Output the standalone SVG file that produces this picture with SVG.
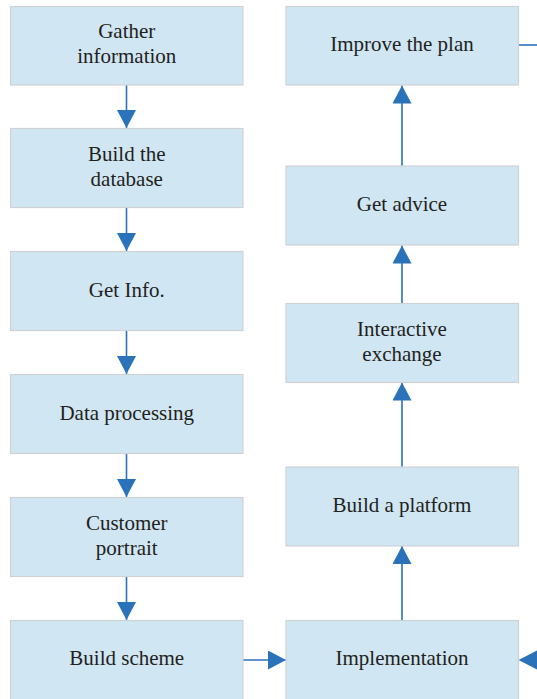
<svg xmlns="http://www.w3.org/2000/svg" width="537" height="699" viewBox="0 0 537 699">
<defs>
<marker id="ah" markerUnits="userSpaceOnUse" markerWidth="19" markerHeight="19" viewBox="0 0 18 19" refX="18" refY="9.5" orient="auto">
<path d="M0,0 L18,9.5 L0,19 Z" fill="#2a72b9"/>
</marker>
<style>
.box{fill:#d0e6f3;stroke:#cfd2d4;stroke-width:1.2}
.t{font-family:"Liberation Serif","Times New Roman",serif;font-size:21px;fill:#231f20;text-anchor:middle}
.c{stroke:#2a72b9;stroke-width:1.6;fill:none}
</style>
</defs>
<rect width="537" height="699" fill="#ffffff"/>
<g id="connectors">
<path class="c" d="M126.5,85 V128" marker-end="url(#ah)"/>
<path class="c" d="M126.5,208 V251" marker-end="url(#ah)"/>
<path class="c" d="M126.5,331 V374" marker-end="url(#ah)"/>
<path class="c" d="M126.5,454 V497" marker-end="url(#ah)"/>
<path class="c" d="M126.5,577 V620" marker-end="url(#ah)"/>
<path class="c" d="M243,660 H286" marker-end="url(#ah)"/>
<path class="c" d="M402,620 V546" marker-end="url(#ah)"/>
<path class="c" d="M402,467 V382.5" marker-end="url(#ah)"/>
<path class="c" d="M402,303 V245.5" marker-end="url(#ah)"/>
<path class="c" d="M402,166 V85.5" marker-end="url(#ah)"/>
<path class="c" d="M518.5,45 H537"/>
<path d="M537,650.5 L518.5,660 L537,669.5 Z" fill="#2a72b9"/>
</g>
<g id="n1"><rect class="box" x="10.5" y="6.5" width="232.5" height="78.5"/><text class="t" x="126.75" y="38">Gather</text><text class="t" x="126.75" y="63">information</text></g>
<g id="n2"><rect class="box" x="10.5" y="128.5" width="232.5" height="79"/><text class="t" x="126.75" y="161">Build the</text><text class="t" x="126.75" y="186">database</text></g>
<g id="n3"><rect class="box" x="10.5" y="251.5" width="232.5" height="79"/><text class="t" x="126.75" y="297">Get Info.</text></g>
<g id="n4"><rect class="box" x="10.5" y="374.5" width="232.5" height="79"/><text class="t" x="126.75" y="420">Data processing</text></g>
<g id="n5"><rect class="box" x="10.5" y="497.5" width="232.5" height="79"/><text class="t" x="126.75" y="529.5">Customer</text><text class="t" x="126.75" y="554.5">portrait</text></g>
<g id="n6"><rect class="box" x="10.5" y="620.5" width="232.5" height="80"/><text class="t" x="126.75" y="665">Build scheme</text></g>
<g id="n7"><rect class="box" x="286" y="620.5" width="232.5" height="80"/><text class="t" x="402" y="665">Implementation</text></g>
<g id="n8"><rect class="box" x="286" y="467" width="232.5" height="79"/><text class="t" x="402" y="512">Build a platform</text></g>
<g id="n9"><rect class="box" x="286" y="303.5" width="232.5" height="79"/><text class="t" x="402" y="335.5">Interactive</text><text class="t" x="402" y="360.5">exchange</text></g>
<g id="n10"><rect class="box" x="286" y="166" width="232.5" height="79"/><text class="t" x="402" y="211">Get advice</text></g>
<g id="n11"><rect class="box" x="286" y="6.5" width="232.5" height="78.5"/><text class="t" x="402" y="51">Improve the plan</text></g>
</svg>
